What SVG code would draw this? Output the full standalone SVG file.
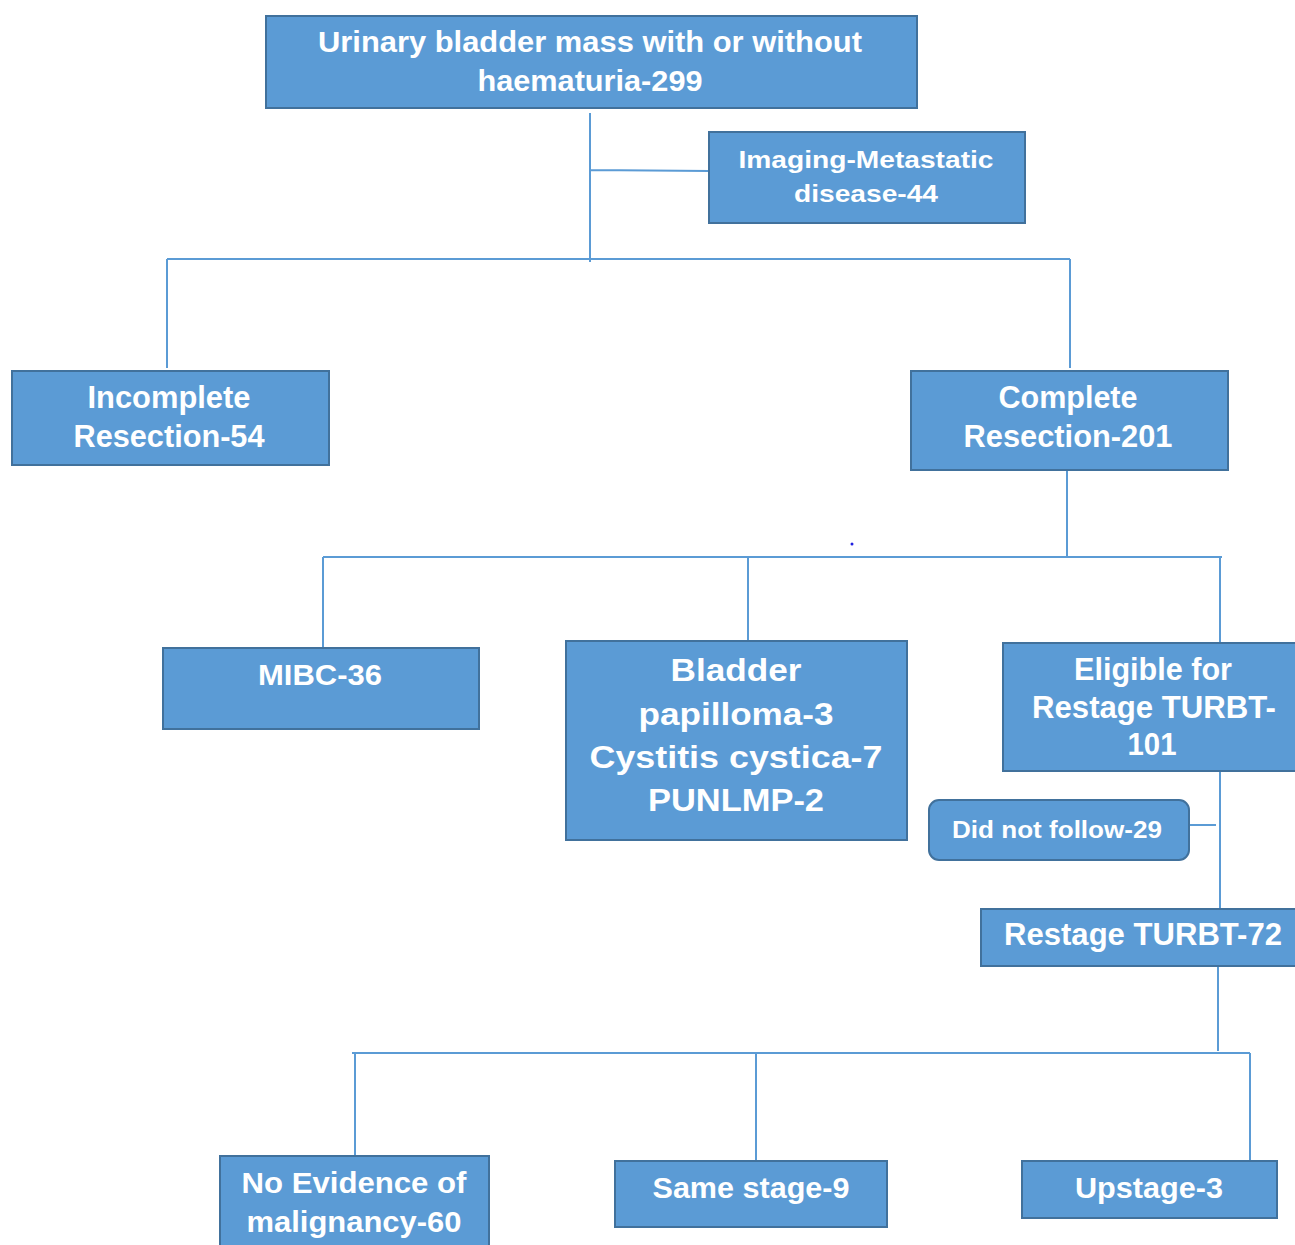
<svg xmlns="http://www.w3.org/2000/svg" width="1295" height="1245" viewBox="0 0 1295 1245">
<style>
.box{fill:#5B9BD5;stroke:#41719C;stroke-width:2}
.t{fill:#ffffff;font-family:"Liberation Sans",Arial,sans-serif;font-weight:bold;text-anchor:middle}
.c{fill:none;stroke:#5B9BD5;stroke-width:2}
</style>
<rect width="1295" height="1245" fill="#ffffff"/>
<g id="connectors">
<path class="c" d="M590 113V262M590 170L709 171M167 259H1070M167 259V368M1070 259V368"/>
<path class="c" d="M1067 470V557M323 557H1222M323 557V648M748 557V641M1220 557V645"/>
<path class="c" d="M1220 771V908M1189 825H1216"/>
<path class="c" d="M1218 966V1051M352 1053H1250M355 1053V1156M756 1053V1161M1250 1053V1161"/>
<circle cx="852" cy="544" r="1.5" fill="#2020e0"/>
</g>
<g id="n1"><rect class="box" x="266" y="16" width="651" height="92"/>
<text class="t" font-size="29" x="590" y="52" textLength="544" lengthAdjust="spacingAndGlyphs">Urinary bladder mass with or without</text>
<text class="t" font-size="29" x="590" y="91" textLength="225" lengthAdjust="spacingAndGlyphs">haematuria-299</text></g>
<g id="n2"><rect class="box" x="709" y="132" width="316" height="91"/>
<text class="t" font-size="24" x="866" y="168" textLength="255" lengthAdjust="spacingAndGlyphs">Imaging-Metastatic</text>
<text class="t" font-size="24" x="866" y="202" textLength="144" lengthAdjust="spacingAndGlyphs">disease-44</text></g>
<g id="n3"><rect class="box" x="12" y="371" width="317" height="94"/>
<text class="t" font-size="31" x="169" y="408" textLength="163" lengthAdjust="spacingAndGlyphs">Incomplete</text>
<text class="t" font-size="31" x="169" y="447" textLength="191" lengthAdjust="spacingAndGlyphs">Resection-54</text></g>
<g id="n4"><rect class="box" x="911" y="371" width="317" height="99"/>
<text class="t" font-size="31" x="1068" y="408" textLength="139" lengthAdjust="spacingAndGlyphs">Complete</text>
<text class="t" font-size="31" x="1068" y="447" textLength="209" lengthAdjust="spacingAndGlyphs">Resection-201</text></g>
<g id="n5"><rect class="box" x="163" y="648" width="316" height="81"/>
<text class="t" font-size="29" x="320" y="685" textLength="124" lengthAdjust="spacingAndGlyphs">MIBC-36</text></g>
<g id="n6"><rect class="box" x="566" y="641" width="341" height="199"/>
<text class="t" font-size="31" x="736" y="681" textLength="131" lengthAdjust="spacingAndGlyphs">Bladder</text>
<text class="t" font-size="31" x="736" y="725" textLength="195" lengthAdjust="spacingAndGlyphs">papilloma-3</text>
<text class="t" font-size="31" x="736" y="768" textLength="293" lengthAdjust="spacingAndGlyphs">Cystitis cystica-7</text>
<text class="t" font-size="31" x="736" y="811" textLength="176" lengthAdjust="spacingAndGlyphs">PUNLMP-2</text></g>
<g id="n7"><rect class="box" x="1003" y="643" width="296" height="128"/>
<text class="t" font-size="31" x="1153" y="680" textLength="158" lengthAdjust="spacingAndGlyphs">Eligible for</text>
<text class="t" font-size="31" x="1154" y="718" textLength="244" lengthAdjust="spacingAndGlyphs">Restage TURBT-</text>
<text class="t" font-size="31" x="1152" y="755" textLength="49" lengthAdjust="spacingAndGlyphs">101</text></g>
<g id="n8"><rect class="box" x="929" y="800" width="260" height="60" rx="10" ry="10"/>
<text class="t" font-size="24" x="1057" y="838" textLength="210" lengthAdjust="spacingAndGlyphs">Did not follow-29</text></g>
<g id="n9"><rect class="box" x="981" y="909" width="318" height="57"/>
<text class="t" font-size="31" x="1143" y="945" textLength="278" lengthAdjust="spacingAndGlyphs">Restage TURBT-72</text></g>
<g id="n10"><rect class="box" x="220" y="1156" width="269" height="95"/>
<text class="t" font-size="30" x="354" y="1193" textLength="225" lengthAdjust="spacingAndGlyphs">No Evidence of</text>
<text class="t" font-size="30" x="354" y="1232" textLength="215" lengthAdjust="spacingAndGlyphs">malignancy-60</text></g>
<g id="n11"><rect class="box" x="615" y="1161" width="272" height="66"/>
<text class="t" font-size="30" x="751" y="1198" textLength="197" lengthAdjust="spacingAndGlyphs">Same stage-9</text></g>
<g id="n12"><rect class="box" x="1022" y="1161" width="255" height="57"/>
<text class="t" font-size="30" x="1149" y="1198" textLength="148" lengthAdjust="spacingAndGlyphs">Upstage-3</text></g>
</svg>
